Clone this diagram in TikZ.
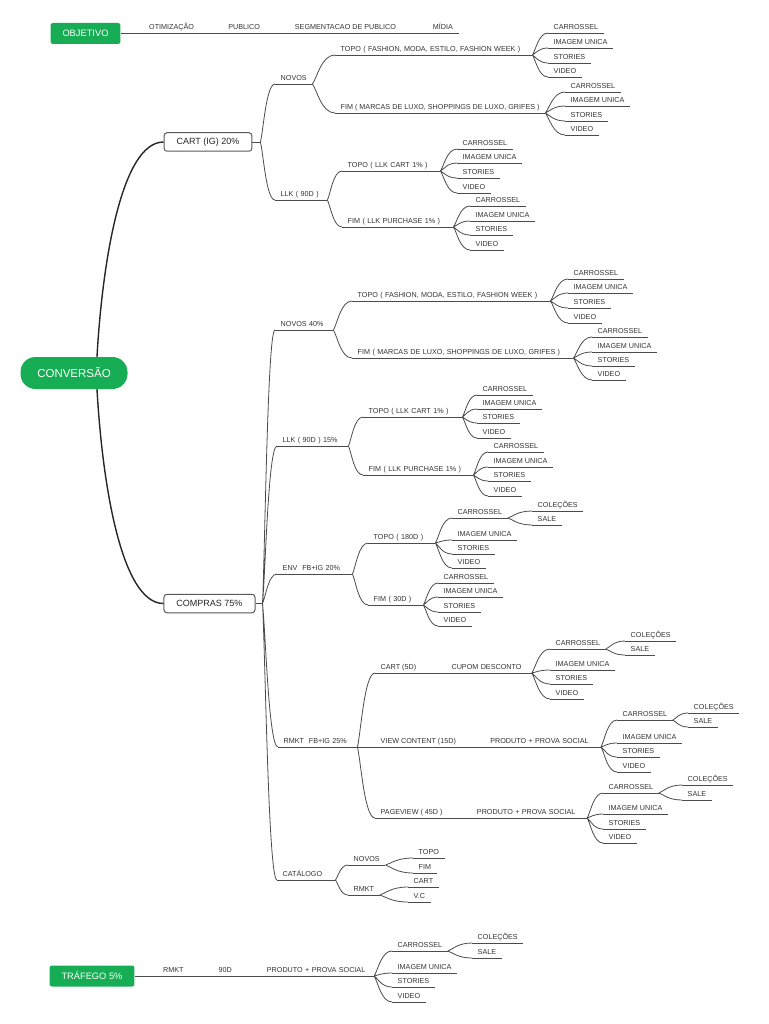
\documentclass[tikz,border=0pt]{standalone}
\usepackage{fontspec}
\setmainfont{Liberation Sans}
\usepackage{xcolor}
\usepackage{tikz}
\usetikzlibrary{positioning, calc}

\definecolor{mmgreen}{RGB}{22,173,84}
\definecolor{lineg}{RGB}{75,75,75}

\begin{document}
\begin{tikzpicture}[
  x=1pt, y=-1pt,
  root/.style={
    rectangle, rounded corners=15pt, fill=mmgreen, text=white,
    minimum width=107pt, minimum height=32pt, inner sep=0pt,
    font=\fontsize{11.5}{13}\selectfont
  },
  goal/.style={
    rectangle, rounded corners=2.5pt, fill=mmgreen, text=white,
    minimum height=21pt, inner xsep=12pt, inner ysep=0pt,
    font=\fontsize{9.3}{11}\selectfont
  },
  topic/.style={
    rectangle, rounded corners=3pt, draw=black!65, line width=1pt, fill=white,
    minimum height=18.5pt, inner xsep=12.5pt, inner ysep=0pt, text=black!85,
    font=\fontsize{9}{11}\selectfont
  },
  uline/.style={draw=lineg, line width=0.8pt},
  item/.style={
    anchor=south west, text=black!80, font=\fontsize{7.2}{8}\selectfont,
    text height=5.2pt, text depth=0pt, inner xsep=5.5pt, inner ysep=3.3pt,
    append after command={(\tikzlastnode.south west) edge[uline] (\tikzlastnode.south east)}
  },
  uwidth/.style={text width=#1, align=left},
  link/.style={draw=lineg, line width=0.8pt},
  branch/.style={
    draw=lineg, line width=0.8pt,
    to path={.. controls ($(\tikztostart)!0.2!(\tikztotarget)$) and ($(\tikztotarget)!0.6!(\tikztostart|-\tikztotarget)$) .. (\tikztotarget) \tikztonodes}
  },
  trunk/.style={draw=black!85, line width=1.4pt},
  node distance=23.5pt
]
\useasboundingbox (0,0) rectangle (768,1024);

% ==================== MAIN TOPICS ====================
\node[root] (conv) at (74,373) {CONVERSÃO};
\node[goal] (obj) at (85.5,33.5) {OBJETIVO};
\node[topic] (cart) at (208,142) {CART (IG) 20\%};
\node[topic] (compras) at (209.5,603.5) {COMPRAS 75\%};
\node[goal] (traf) at (92,976) {TRÁFEGO 5\%};

\draw[trunk] ([xshift=23pt]conv.north) .. controls +(5,-90) and +(-43,0) .. (cart.west);
\draw[trunk] ([xshift=23pt]conv.south) .. controls +(5,90) and +(-43,0) .. (compras.west);

% ==================== OBJETIVO ====================
\node[item] (otim) at (143.5,33) {OTIMIZAÇÃO};
\node[item, right=23pt of otim] (publ) {PUBLICO};
\node[item, right=23.5pt of publ] (segm) {SEGMENTACAO DE PUBLICO};
\node[item, right=25.5pt of segm] (midia) {MÍDIA};
\draw[link] (obj.east |- otim.south west) -- (otim.south west) (otim.south east) -- (publ.south west)
  (publ.south east) -- (segm.south west) (segm.south east) -- (midia.south west);

% ==================== CART (IG) ====================
\coordinate (cartfork) at ([xshift=8pt]cart.east);
\node[item] (novos1) at (275,84) {NOVOS};
\node[item, uwidth=41pt] (llk1) at (275,200) {LLK ( 90D )};
\draw[link] (cart.east) -- (cartfork);
\draw[branch] (cartfork) to (novos1.south west) (cartfork) to (llk1.south west);

% Novos
\node[item, uwidth=186pt] (topo1) at (335,55) {TOPO ( FASHION, MODA, ESTILO, FASHION WEEK )};
\node[item] (fim1) at (335,113) {FIM ( MARCAS DE LUXO, SHOPPINGS DE LUXO, GRIFES )};
\draw[branch] (novos1.south east) to (topo1.south west) (novos1.south east) to (fim1.south west);

\node[item] (g1c) at (548,33) {CARROSSEL};
\node[item] (g1i) at (548,48) {IMAGEM UNICA};
\node[item] (g1s) at (548,63) {STORIES};
\node[item] (g1v) at (548,77) {VIDEO};
\draw[branch] (topo1.south east) to (g1c.south west) (topo1.south east) to (g1i.south west)
  (topo1.south east) to (g1s.south west) (topo1.south east) to (g1v.south west);

\node[item] (g2c) at (565,92) {CARROSSEL};
\node[item] (g2i) at (565,106) {IMAGEM UNICA};
\node[item] (g2s) at (565,121) {STORIES};
\node[item] (g2v) at (565,135) {VIDEO};
\draw[branch] (fim1.south east) to (g2c.south west) (fim1.south east) to (g2i.south west)
  (fim1.south east) to (g2s.south west) (fim1.south east) to (g2v.south west);

% LLK
\node[item, uwidth=87pt] (topo2) at (342,171) {TOPO ( LLK CART 1\% )};
\node[item, uwidth=100pt] (fim2) at (342,227) {FIM ( LLK PURCHASE 1\% )};
\draw[branch] (llk1.south east) to (topo2.south west) (llk1.south east) to (fim2.south west);

\node[item] (g3c) at (457,149) {CARROSSEL};
\node[item] (g3i) at (457,163) {IMAGEM UNICA};
\node[item] (g3s) at (457,178) {STORIES};
\node[item] (g3v) at (457,193) {VIDEO};
\draw[branch] (topo2.south east) to (g3c.south west) (topo2.south east) to (g3i.south west)
  (topo2.south east) to (g3s.south west) (topo2.south east) to (g3v.south west);

\node[item] (g4c) at (470,206) {CARROSSEL};
\node[item] (g4i) at (470,221) {IMAGEM UNICA};
\node[item] (g4s) at (470,235) {STORIES};
\node[item] (g4v) at (470,250) {VIDEO};
\draw[branch] (fim2.south east) to (g4c.south west) (fim2.south east) to (g4i.south west)
  (fim2.south east) to (g4s.south west) (fim2.south east) to (g4v.south west);

% ==================== COMPRAS ====================
\coordinate (compfork) at ([xshift=7pt]compras.east);
\node[item, uwidth=47pt] (novos2) at (275,330) {NOVOS 40\%};
\node[item, uwidth=60pt] (llk2) at (277,446) {LLK ( 90D ) 15\%};
\node[item, uwidth=64pt] (env) at (277,574) {ENV\ \ FB+IG 20\%};
\node[item, uwidth=68pt] (rmkt1) at (278,747) {RMKT\ \ FB+IG 25\%};
\node[item, uwidth=47pt] (catal) at (277,880) {CATÁLOGO};
\draw[link] (compras.east) -- (compfork);
\draw[branch] (compfork) to (novos2.south west) (compfork) to (llk2.south west)
  (compfork) to (env.south west) (compfork) to (rmkt1.south west) (compfork) to (catal.south west);

% Novos 40%
\node[item, uwidth=187pt] (topo3) at (352,301) {TOPO ( FASHION, MODA, ESTILO, FASHION WEEK )};
\node[item, uwidth=210pt] (fim3) at (352,358) {FIM ( MARCAS DE LUXO, SHOPPINGS DE LUXO, GRIFES )};
\draw[branch] (novos2.south east) to (topo3.south west) (novos2.south east) to (fim3.south west);

\node[item] (g5c) at (568,279) {CARROSSEL};
\node[item] (g5i) at (568,293) {IMAGEM UNICA};
\node[item] (g5s) at (568,308) {STORIES};
\node[item] (g5v) at (568,323) {VIDEO};
\draw[branch] (topo3.south east) to (g5c.south west) (topo3.south east) to (g5i.south west)
  (topo3.south east) to (g5s.south west) (topo3.south east) to (g5v.south west);

\node[item] (g6c) at (592,337) {CARROSSEL};
\node[item] (g6i) at (592,352) {IMAGEM UNICA};
\node[item] (g6s) at (592,366) {STORIES};
\node[item] (g6v) at (592,380) {VIDEO};
\draw[branch] (fim3.south east) to (g6c.south west) (fim3.south east) to (g6i.south west)
  (fim3.south east) to (g6s.south west) (fim3.south east) to (g6v.south west);

% LLK 15%
\node[item, uwidth=88pt] (topo4) at (363,417) {TOPO ( LLK CART 1\% )};
\node[item, uwidth=99pt] (fim4) at (363,475) {FIM ( LLK PURCHASE 1\% )};
\draw[branch] (llk2.south east) to (topo4.south west) (llk2.south east) to (fim4.south west);

\node[item] (g7c) at (477,395) {CARROSSEL};
\node[item] (g7i) at (477,409) {IMAGEM UNICA};
\node[item] (g7s) at (477,423) {STORIES};
\node[item] (g7v) at (477,438) {VIDEO};
\draw[branch] (topo4.south east) to (g7c.south west) (topo4.south east) to (g7i.south west)
  (topo4.south east) to (g7s.south west) (topo4.south east) to (g7v.south west);

\node[item] (g8c) at (488,452) {CARROSSEL};
\node[item] (g8i) at (488,467) {IMAGEM UNICA};
\node[item] (g8s) at (488,481) {STORIES};
\node[item] (g8v) at (488,496) {VIDEO};
\draw[branch] (fim4.south east) to (g8c.south west) (fim4.south east) to (g8i.south west)
  (fim4.south east) to (g8s.south west) (fim4.south east) to (g8v.south west);

% ENV FB+IG
\node[item, uwidth=56pt] (topo5) at (368,543) {TOPO ( 180D )};
\node[item, uwidth=44pt] (fim5) at (368,605) {FIM ( 30D )};
\draw[branch] (env.south east) to (topo5.south west) (env.south east) to (fim5.south west);

\node[item] (g9c) at (452,518) {CARROSSEL};
\node[item] (g9i) at (452,540) {IMAGEM UNICA};
\node[item] (g9s) at (452,554) {STORIES};
\node[item] (g9v) at (452,568) {VIDEO};
\draw[branch] (topo5.south east) to (g9c.south west) (topo5.south east) to (g9i.south west)
  (topo5.south east) to (g9s.south west) (topo5.south east) to (g9v.south west);
\node[item] (g9col) at (532,511) {COLEÇÕES};
\node[item] (g9sal) at (532,525) {SALE};
\draw[branch] (g9c.south east) to (g9col.south west) (g9c.south east) to (g9sal.south west);

\node[item] (g10c) at (438,583) {CARROSSEL};
\node[item] (g10i) at (438,597) {IMAGEM UNICA};
\node[item] (g10s) at (438,612) {STORIES};
\node[item] (g10v) at (438,626) {VIDEO};
\draw[branch] (fim5.south east) to (g10c.south west) (fim5.south east) to (g10i.south west)
  (fim5.south east) to (g10s.south west) (fim5.south east) to (g10v.south west);

% RMKT FB+IG
\node[item] (cart5) at (375,673) {CART (5D)};
\node[item, uwidth=74.5pt, right=24pt of cart5] (cupom) {CUPOM DESCONTO};
\node[item] (view) at (375,747) {VIEW CONTENT (15D)};
\node[item, uwidth=105pt, right=23pt of view] (prod1) {PRODUTO + PROVA SOCIAL};
\node[item] (page) at (375,818) {PAGEVIEW ( 45D )};
\node[item, uwidth=104.5pt, right=23pt of page] (prod2) {PRODUTO + PROVA SOCIAL};
\draw[branch] (rmkt1.south east) to (cart5.south west) (rmkt1.south east) to (page.south west);
\draw[link] (rmkt1.south east) -- (view.south west);
\draw[link] (cart5.south east) -- (cupom.south west) (view.south east) -- (prod1.south west)
  (page.south east) -- (prod2.south west);

\node[item] (g11c) at (550,649) {CARROSSEL};
\node[item] (g11i) at (550,670) {IMAGEM UNICA};
\node[item] (g11s) at (550,684) {STORIES};
\node[item] (g11v) at (550,699) {VIDEO};
\draw[branch] (cupom.south east) to (g11c.south west) (cupom.south east) to (g11i.south west)
  (cupom.south east) to (g11s.south west) (cupom.south east) to (g11v.south west);
\node[item] (g11col) at (625,641) {COLEÇÕES};
\node[item] (g11sal) at (625,655) {SALE};
\draw[branch] (g11c.south east) to (g11col.south west) (g11c.south east) to (g11sal.south west);

\node[item] (g12c) at (617,720) {CARROSSEL};
\node[item] (g12i) at (617,743) {IMAGEM UNICA};
\node[item] (g12s) at (617,757) {STORIES};
\node[item] (g12v) at (617,772) {VIDEO};
\draw[branch] (prod1.south east) to (g12c.south west) (prod1.south east) to (g12i.south west)
  (prod1.south east) to (g12s.south west) (prod1.south east) to (g12v.south west);
\node[item] (g12col) at (688,713) {COLEÇÕES};
\node[item] (g12sal) at (688,727) {SALE};
\draw[branch] (g12c.south east) to (g12col.south west) (g12c.south east) to (g12sal.south west);

\node[item] (g13c) at (603,793) {CARROSSEL};
\node[item] (g13i) at (603,814) {IMAGEM UNICA};
\node[item] (g13s) at (603,829) {STORIES};
\node[item] (g13v) at (603,843) {VIDEO};
\draw[branch] (prod2.south east) to (g13c.south west) (prod2.south east) to (g13i.south west)
  (prod2.south east) to (g13s.south west) (prod2.south east) to (g13v.south west);
\node[item] (g13col) at (682,785) {COLEÇÕES};
\node[item] (g13sal) at (682,800) {SALE};
\draw[branch] (g13c.south east) to (g13col.south west) (g13c.south east) to (g13sal.south west);

% Catalogo
\node[item] (novos3) at (348,865) {NOVOS};
\node[item] (rmkt2) at (348,895) {RMKT};
\draw[branch] (catal.south east) to (novos3.south west) (catal.south east) to (rmkt2.south west);
\node[item] (topoc) at (413,858) {TOPO};
\node[item] (fimc) at (413,873) {FIM};
\draw[branch] (novos3.south east) to (topoc.south west) (novos3.south east) to (fimc.south west);
\node[item] (cartc) at (408,887) {CART};
\node[item] (vc) at (408,902) {V.C};
\draw[branch] (rmkt2.south east) to (cartc.south west) (rmkt2.south east) to (vc.south west);

% ==================== TRAFEGO ====================
\node[item] (rmkt3) at (157.5,976) {RMKT};
\node[item, right=23.5pt of rmkt3] (d90) {90D};
\node[item, uwidth=101.5pt, right=23.8pt of d90] (prod3) {PRODUTO + PROVA SOCIAL};
\draw[link] (traf.east) -- (rmkt3.south west) (rmkt3.south east) -- (d90.south west)
  (d90.south east) -- (prod3.south west);

\node[item] (g14c) at (392,951) {CARROSSEL};
\node[item] (g14i) at (392,973) {IMAGEM UNICA};
\node[item] (g14s) at (392,987) {STORIES};
\node[item] (g14v) at (392,1002) {VIDEO};
\draw[branch] (prod3.south east) to (g14c.south west) (prod3.south east) to (g14i.south west)
  (prod3.south east) to (g14s.south west) (prod3.south east) to (g14v.south west);
\node[item] (g14col) at (472,943) {COLEÇÕES};
\node[item] (g14sal) at (472,958) {SALE};
\draw[branch] (g14c.south east) to (g14col.south west) (g14c.south east) to (g14sal.south west);

\end{tikzpicture}
\end{document}
